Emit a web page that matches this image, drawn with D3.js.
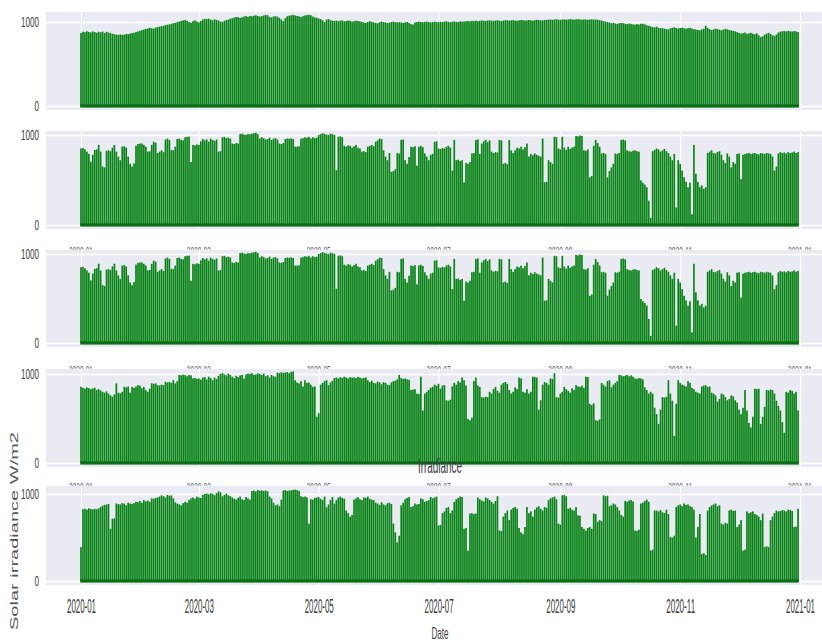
<!DOCTYPE html>
<html><head><meta charset="utf-8">
<script src="https://cdn.jsdelivr.net/npm/d3@7"></script>
<style>body{margin:0;background:#fff}svg{display:block}</style>
</head><body><svg id="c" width="822" height="643"></svg>
<script>
// Daily solar irradiance (W/m2), 2020-01-01 .. 2020-12-31, one value per day
const seriesA = [
870,885,878,890,882,876,888,880,872,884,
879,886,870,882,875,868,860,855,850,848,
852,846,850,858,855,862,868,872,880,888,
895,902,910,918,922,930,925,920,935,940,
945,950,955,962,968,972,978,985,992,998,
1005,1012,1020,1024,1015,1000,992,1010,1020,1005,
996,1012,1030,1038,1035,1040,1028,1020,1032,1025,
1018,1005,1000,1015,1022,1030,1040,1045,1052,1060,
1058,1048,1055,1065,1070,1062,1072,1068,1075,1080,
1072,1065,1070,1078,1085,1080,1060,1055,1065,1070,
1062,1050,1030,1010,1045,1068,1075,1080,1085,1078,
1072,1068,1060,1070,1078,1082,1086,1080,1065,1055,
1050,1042,1035,1020,1000,1028,1035,1022,1015,1012,
1018,1010,1015,1020,1008,1012,1018,1015,1005,1010,
1016,1012,1008,1000,995,990,1000,1008,1002,996,
990,985,998,1004,1000,995,988,992,1000,1005,
1000,996,998,994,990,996,1000,988,975,970,
995,1000,1004,1000,998,1002,1005,1000,996,1000,
1004,1000,998,1002,1000,1005,1008,1002,998,1004,
1006,1002,1000,1008,1004,1006,1010,1012,1008,1014,
1012,1016,1010,1014,1018,1015,1012,1018,1020,1016,
1014,1018,1020,1016,1012,1018,1022,1020,1016,1020,
1022,1018,1016,1020,1024,1022,1018,1020,1024,1020,
1016,1022,1026,1024,1020,1018,1024,1026,1028,1030,
1026,1030,1032,1028,1026,1030,1032,1028,1030,1034,
1030,1028,1032,1034,1030,1028,1032,1030,1026,1030,
1032,1028,1030,1026,1022,1018,1010,1005,1000,995,
985,990,982,978,985,990,986,980,975,982,
978,972,968,975,970,978,980,972,962,955,
948,940,935,945,930,925,928,920,915,912,
925,930,935,928,922,930,932,926,920,928,
930,922,915,910,905,900,912,920,955,930,
915,905,912,920,918,908,900,910,918,912,
905,900,895,888,880,870,862,868,875,860,
865,872,860,855,865,842,820,830,850,862,
870,858,842,835,850,875,885,890,892,888,
894,890,886,892,888,880
];
const seriesB = [
852,855,840,815,790,703,780,833,840,890,
815,650,640,825,830,820,860,890,815,760,
720,870,875,860,760,680,650,685,880,900,
905,905,890,870,815,820,890,925,915,800,
815,830,810,950,960,945,833,830,870,955,
960,945,940,975,980,982,700,890,885,895,
890,930,955,940,950,925,960,945,935,950,
815,820,975,980,965,970,960,905,900,910,
905,1010,1015,1005,1000,1012,1008,1015,1020,1025,
1010,960,975,965,950,955,970,945,960,965,
950,905,900,910,955,960,958,962,955,870,
870,875,960,965,975,970,980,960,975,965,
970,1000,1010,1020,1012,1005,1000,1015,1010,1000,
610,980,985,975,880,870,885,880,860,875,
890,860,850,815,820,810,870,880,890,875,
925,940,960,955,830,760,720,800,590,600,
620,800,795,945,950,720,680,755,870,865,
875,660,870,880,865,795,760,720,780,790,
925,930,850,845,855,850,870,880,860,605,
945,720,725,710,720,475,690,680,700,795,
800,945,950,790,905,930,945,920,940,815,
800,810,805,945,940,680,690,675,945,830,
800,830,860,850,870,840,865,905,760,790,
775,795,780,770,760,960,475,480,720,700,
680,980,975,850,840,980,860,835,870,845,
860,870,990,985,995,990,830,825,840,530,
545,880,945,910,870,795,800,790,530,600,
640,680,795,790,800,945,950,940,830,820,
815,825,830,820,815,495,470,450,420,270,
80,820,835,850,840,815,830,845,820,800,
760,720,790,195,720,680,605,530,480,420,
470,120,890,570,480,420,440,400,420,800,
815,830,800,795,810,820,780,720,690,795,
760,640,700,680,790,795,510,780,790,795,
800,790,795,800,790,785,800,795,790,800,
795,790,760,605,650,795,810,800,805,795,
810,800,805,815,800,810
];
const seriesC = [
857,845,835,850,840,830,838,845,820,830,
815,800,790,805,780,760,745,770,895,790,
782,800,857,850,860,790,855,845,860,875,
870,840,855,820,800,835,895,890,895,875,
870,880,875,913,905,910,900,930,895,920,
990,985,992,988,975,990,985,950,955,945,
950,935,960,965,940,970,955,930,960,945,
980,1000,1010,995,985,1005,990,970,955,980,
965,985,990,950,995,1005,1000,1010,990,995,
1008,1000,990,1005,975,985,960,990,975,970,
1015,1010,1020,1012,1018,1022,1010,1025,1030,930,
905,895,920,860,930,900,905,880,855,860,
520,560,880,900,920,930,875,905,925,955,
960,950,965,955,970,960,950,965,958,962,
955,968,960,950,955,962,930,910,925,900,
895,915,905,885,910,900,880,875,905,920,
925,940,990,955,945,950,940,935,820,825,
830,780,775,970,590,780,800,820,845,855,
880,870,890,835,870,875,705,700,710,860,
900,880,920,905,960,930,870,495,480,510,
920,960,870,855,740,735,745,740,800,780,
830,855,810,790,880,900,910,890,820,780,
800,850,830,960,950,800,790,830,780,800,
970,965,960,600,705,880,910,900,880,950,
945,1008,740,735,780,800,855,830,810,790,
840,820,875,860,855,870,845,970,965,665,
650,670,480,475,490,900,880,860,920,930,
850,880,900,920,990,985,975,980,990,975,
985,970,950,945,955,950,940,850,820,780,
800,780,620,550,440,600,740,735,745,930,
780,700,305,665,930,900,880,870,860,920,
900,845,830,800,790,780,860,870,875,855,
860,790,780,760,690,720,780,770,740,705,
720,760,750,705,680,600,550,620,820,590,
450,400,520,835,830,835,440,520,630,820,
815,825,820,780,700,640,590,460,340,800,
790,820,810,780,800,590
];
const seriesD = [
390,825,830,820,835,828,822,830,825,835,
850,865,875,880,885,600,715,720,890,885,
880,895,890,870,900,890,885,895,910,905,
920,900,930,915,925,910,950,945,955,960,
970,985,975,960,990,980,985,950,905,890,
880,870,895,910,900,930,950,960,945,970,
960,955,990,1000,1005,995,1008,1000,985,1010,
1030,1020,975,990,1005,985,975,960,945,935,
955,970,940,930,965,950,935,1035,1040,1030,
1045,1038,1042,1035,1040,1030,970,950,900,870,
880,860,935,1040,1045,1035,1040,1042,1048,1050,
1045,1035,975,965,970,960,660,940,935,955,
960,965,945,930,970,850,880,930,965,890,
930,960,970,955,945,810,780,740,760,935,
950,965,940,930,960,955,970,945,935,930,
900,890,875,905,880,870,895,900,885,660,
560,445,520,870,900,940,955,965,850,860,
890,880,885,950,940,910,920,930,965,950,
960,970,640,645,780,800,840,850,780,810,
910,940,955,970,965,600,610,350,775,780,
770,775,960,940,925,915,960,950,930,910,
890,920,975,580,575,740,780,810,700,820,
840,850,830,610,560,540,620,850,780,800,
740,820,845,860,830,810,850,840,930,950,
960,970,940,660,650,985,990,975,830,840,
820,810,850,755,750,620,600,580,610,620,
600,775,770,680,700,690,985,975,980,860,
870,890,880,850,810,760,740,920,910,925,
930,915,580,575,590,890,900,920,935,910,
350,360,810,810,800,815,790,780,820,770,
505,500,520,850,870,880,860,890,875,880,
860,850,820,500,620,770,310,320,300,810,
850,870,880,890,860,870,660,650,670,660,
810,820,805,810,620,650,700,350,360,800,
780,790,800,770,760,740,700,775,390,400,
390,700,740,780,810,800,805,815,810,800,
820,815,805,620,625,830
];
const tickLabels = ["2020-01","2020-03","2020-05","2020-07","2020-09","2020-11","2021-01"];
const yTickValues = [0, 1000];
const yTickLabels = ["0", "1000"];
const titleText = "Irradiance";
const xLabelText = "Date";
const yLabelText = "Solar irradiance W/m2";

const panelSeries = [seriesA, seriesB, seriesB, seriesC, seriesD];
const layout = [
  {bgTop:12,  y1000:22,  y0:106, bgBot:110},
  {bgTop:131, y1000:135, y0:225, bgBot:229},
  {bgTop:250, y1000:254, y0:343, bgBot:347},
  {bgTop:369, y1000:374, y0:463, bgBot:467},
  {bgTop:486, y1000:494, y0:581, bgBot:585}
];

const svg = d3.select("#c");
svg.append("rect").attr("width",822).attr("height",643).attr("fill","#fff");
const startDate = new Date(2020,0,1);
const endDate = new Date(2021,0,1);
const x = d3.scaleTime().domain([startDate, endDate]).range([81, 800]);
const dayPx = (x(endDate) - x(startDate)) / 366;
const parseM = d3.timeParse("%Y-%m");
const tickDates = tickLabels.map(parseM);
const BG_L = 46, BG_R = 822;
const FONT = "'Liberation Sans', Arial, sans-serif";
const TXT = "#3c3c3c";

layout.forEach((L, k) => {
  const data = panelSeries[k];
  const g = svg.append("g");
  g.append("rect").attr("x",BG_L).attr("y",L.bgTop).attr("width",BG_R-BG_L)
    .attr("height",L.bgBot-L.bgTop).attr("fill","#eaeaf2");
  const y = d3.scaleLinear().domain([0,1000]).range([L.y0, L.y1000]);

  // vertical grid
  const vg = g.append("g").attr("transform",`translate(0,${L.bgBot})`)
    .call(d3.axisBottom(x).tickValues(tickDates).tickSize(-(L.bgBot-L.bgTop)).tickFormat(""));
  vg.select(".domain").remove();
  vg.selectAll("line").attr("stroke","#fff").attr("stroke-width",1.1);

  // horizontal grid + y tick labels
  const hg = g.append("g").attr("transform",`translate(${BG_L},0)`)
    .call(d3.axisLeft(y).tickValues(yTickValues).tickSize(-(BG_R-BG_L)).tickPadding(7)
      .tickFormat((d,i)=>yTickLabels[i]));
  hg.select(".domain").remove();
  hg.selectAll("line").attr("stroke","#fff").attr("stroke-width",1.4);
  hg.selectAll("text").attr("font-family",FONT).attr("font-size",15).attr("fill",TXT)
    .attr("lengthAdjust","spacingAndGlyphs")
    .attr("textLength",(d)=> d===1000 ? 18 : 4.5);

  // bars
  g.append("g").selectAll("rect").data(data).join("rect")
    .attr("x",(d,i)=> x(d3.timeDay.offset(startDate,i)) - 0.43*dayPx)
    .attr("width",0.86*dayPx)
    .attr("y",d=>y(d))
    .attr("height",d=>L.y0 - y(d))
    .attr("fill","#0a8418");
  // dark base edge
  g.append("rect").attr("x",x(startDate)-0.8)
    .attr("width",x(d3.timeDay.offset(startDate,data.length-1))-x(startDate)+1.6)
    .attr("y",L.y0-1.6).attr("height",3.2).attr("fill","#0a6e15");

  // partially hidden tick labels under panels 2..4 (covered by next panel)
  if (k >= 1 && k <= 3) {
    const nextTop = layout[k+1].bgTop;
    g.append("g").selectAll("text").data(tickDates).join("text")
      .attr("x",d=>x(d)).attr("y",nextTop+6)
      .attr("text-anchor","middle").attr("font-family",FONT).attr("font-size",13)
      .attr("fill","#666").attr("lengthAdjust","spacingAndGlyphs").attr("textLength",24)
      .text((d,i)=>tickLabels[i]);
  }
});

// bottom axis
const xa = svg.append("g").attr("transform",`translate(0,585)`)
  .call(d3.axisBottom(x).tickValues(tickDates).tickSize(0).tickPadding(14)
    .tickFormat((d,i)=>tickLabels[i]));
xa.select(".domain").remove();
xa.selectAll("text").attr("font-family",FONT).attr("font-size",20).attr("fill",TXT)
  .attr("lengthAdjust","spacingAndGlyphs").attr("textLength",29);

// title
svg.append("text").attr("x",440).attr("y",473).attr("text-anchor","middle")
  .attr("font-family",FONT).attr("font-size",21).attr("fill",TXT)
  .attr("lengthAdjust","spacingAndGlyphs").attr("textLength",44).text(titleText);
// x label
svg.append("text").attr("x",440).attr("y",639).attr("text-anchor","middle")
  .attr("font-family",FONT).attr("font-size",17).attr("fill",TXT)
  .attr("lengthAdjust","spacingAndGlyphs").attr("textLength",17).text(xLabelText);
// y label
svg.append("text").attr("transform","translate(18,531) scale(0.66,1) rotate(-90)")
  .attr("text-anchor","middle")
  .attr("font-family",FONT).attr("font-size",17).attr("fill","#555")
  .attr("lengthAdjust","spacingAndGlyphs").attr("textLength",198).text(yLabelText);
</script>
</body></html>
